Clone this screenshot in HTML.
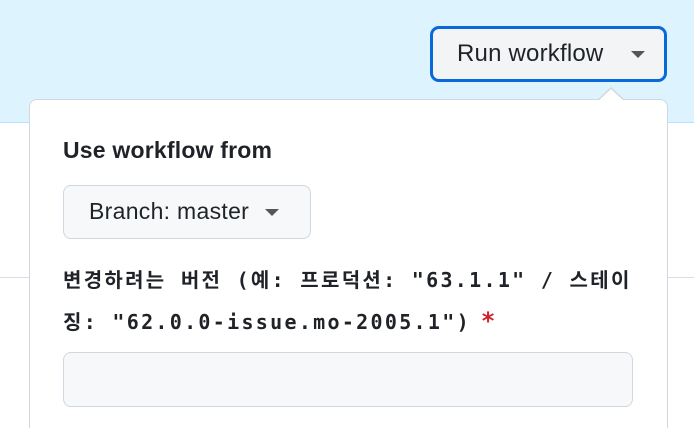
<!DOCTYPE html>
<html><head><style>
html,body{margin:0;width:694px;height:428px;overflow:hidden}
body{background:#fff;position:relative;font-family:"Liberation Sans","Noto Sans CJK KR",sans-serif;color:#1f2328}
.top{position:absolute;left:0;top:0;width:694px;height:122px;background:#ddf4ff;border-bottom:1px solid #b6e3ff}
.hl{position:absolute;left:0;top:277px;width:694px;height:1px;background:#d8dee4}
.btn{position:absolute;left:430px;top:26px;width:231px;height:50px;border:3px solid #0969da;border-radius:9px;background:#f3f4f6;box-sizing:content-box}
.btn span{position:absolute;left:24px;top:11px;font-size:24px;letter-spacing:0.2px}
.caret{position:absolute;width:0;height:0;border-left:7px solid transparent;border-right:7px solid transparent;border-top:7px solid #555}
.panel{position:absolute;left:29px;top:99px;width:637px;height:329px;background:#fff;border:1px solid #d0d7de;border-bottom:none;border-radius:8px 8px 0 0}
.notch{position:absolute;left:597px;top:87px;width:0;height:0;border-left:14px solid transparent;border-right:14px solid transparent;border-bottom:13px solid #d0d7de}
.notch2{position:absolute;left:598px;top:89px;width:0;height:0;border-left:13px solid transparent;border-right:13px solid transparent;border-bottom:12px solid #fff}
.h{position:absolute;left:63px;top:137px;font-size:23px;font-weight:bold;letter-spacing:0.2px}
.br{position:absolute;left:63px;top:185px;width:246px;height:52px;background:#f6f8fa;border:1px solid #d0d7de;border-radius:8px}
.br span{position:absolute;left:25px;top:12px;font-size:23px;letter-spacing:0.3px}
.lab{position:absolute;left:63px;font-family:"DejaVu Sans Mono","Noto Sans CJK KR",monospace;font-weight:bold;font-size:20px;letter-spacing:2.3px;white-space:nowrap;color:#1f2328}
.inp{position:absolute;left:63px;top:352px;width:568px;height:53px;background:#f6f8fa;border:1px solid #d0d7de;border-radius:8px}
</style></head><body>
<div class="top"></div>
<div class="hl"></div>
<div class="btn"><span>Run workflow</span><div class="caret" style="left:198px;top:22px"></div></div>
<div class="notch"></div>
<div class="panel"></div>
<div class="notch2"></div>
<div class="h">Use workflow from</div>
<div class="br"><span>Branch: master</span><div class="caret" style="left:201px;top:23px"></div></div>
<div class="lab" style="top:264px">변경하려는 버전 (예: 프로덕션: "63.1.1" / 스테이</div>
<div class="lab" style="top:306px">징: "62.0.0-issue.mo-2005.1")<span style="color:#cf222e;margin-left:10px;font-size:24px">*</span></div>
<div class="inp"></div>
</body></html>
